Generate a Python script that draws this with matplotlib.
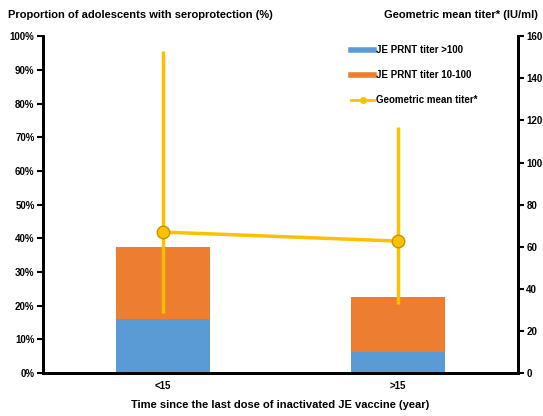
import matplotlib.pyplot as plt
from matplotlib.lines import Line2D
import numpy as np

plt.rcParams['font.family'] = ['Liberation Sans', 'DejaVu Sans']
plt.rcParams['font.weight'] = 'bold'

# data
groups = ['<15', '>15']
prnt_high = [16.0, 6.2]      # JE PRNT titer >100 (%)
prnt_mid = [21.5, 16.4]      # JE PRNT titer 10-100 (%)
gmt = [67.0, 62.7]           # geometric mean titer (IU/ml)
gmt_low = [28.5, 33.0]
gmt_high = [153.0, 117.0]

x = np.arange(len(groups))

fig = plt.figure(figsize=(5.43, 4.16), dpi=100)
ax = fig.add_axes([0.079, 0.103, 0.875, 0.81])

blue = '#5b9bd5'
orange = '#ed7d31'
gold = '#ffc000'

ax.bar(x, prnt_high, width=0.4, color=blue, zorder=2)
ax.bar(x, prnt_mid, width=0.4, bottom=prnt_high, color=orange, zorder=2)

ax.set_xlim(-0.51, 1.51)
ax.set_ylim(0, 100)
ax.set_yticks(np.arange(0, 101, 10))
ax.set_yticklabels([f'{v}%' for v in range(0, 101, 10)])
ax.set_xticks(x)
ax.set_xticklabels(groups)
ax.tick_params(axis='x', length=0, pad=6, labelsize=7)
ax.tick_params(axis='y', direction='out', length=4, width=1.5, labelsize=7, pad=2)
ax.spines['top'].set_visible(False)
for s in ['left', 'right', 'bottom']:
    ax.spines[s].set_linewidth(2)
ax.set_xlabel('Time since the last dose of inactivated JE vaccine (year)', fontsize=8, fontweight='bold', labelpad=6)

ax2 = ax.twinx()
ax2.set_ylim(0, 160)
ax2.set_yticks(np.arange(0, 161, 20))
ax2.tick_params(axis='y', direction='out', length=4, width=1.5, labelsize=7, pad=2)
ax2.spines['top'].set_visible(False)
for s in ['left', 'right', 'bottom']:
    ax2.spines[s].set_linewidth(2)

for i in range(len(x)):
    ax2.plot([x[i], x[i]], [gmt_low[i], gmt_high[i]], color=gold, lw=2.5, solid_capstyle='butt', zorder=3)
ax2.plot(x, gmt, color=gold, lw=2.5, marker='o', markersize=9,
         markerfacecolor=gold, markeredgecolor='#c89400', markeredgewidth=1, zorder=4)

handles = [Line2D([], [], color=blue, lw=4), Line2D([], [], color=orange, lw=4),
           Line2D([], [], color=gold, lw=2, marker='o', markersize=4)]
labels = ['JE PRNT titer >100', 'JE PRNT titer 10-100', 'Geometric mean titer*']
ax2.legend(handles, labels, loc='upper left', bbox_to_anchor=(0.63, 1.0), frameon=False,
           fontsize=7, handlelength=2.4, handletextpad=0.2, labelspacing=1.55)

fig.text(0.015, 0.965, 'Proportion of adolescents with seroprotection (%)', fontsize=8, fontweight='bold', va='center')
fig.text(0.99, 0.965, 'Geometric mean titer* (IU/ml)', fontsize=8, fontweight='bold', va='center', ha='right')

fig.savefig('out.png', dpi=100)
